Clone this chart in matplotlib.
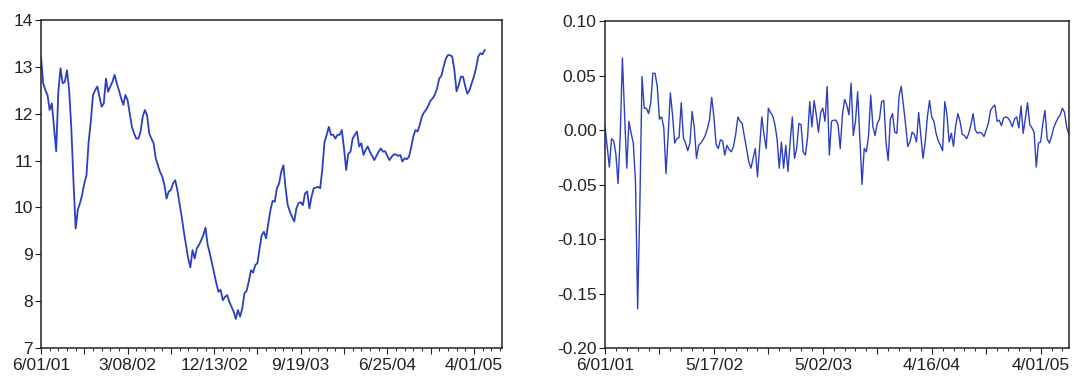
import numpy as np
from matplotlib import pyplot as plt
from matplotlib.ticker import MultipleLocator, FixedLocator, FixedFormatter

plt.rcParams['font.family'] = ['Liberation Sans', 'DejaVu Sans']

# weekly level series, starting 6/01/01
level = [
    13.2, 12.65, 12.5, 12.4, 12.08, 12.22, 11.72, 11.2, 12.47, 12.97,
    12.65, 12.68, 12.93, 12.5, 11.69, 10.55, 9.55, 9.95, 10.09, 10.27,
    10.51, 10.69, 11.4, 11.83, 12.4, 12.5, 12.58, 12.36, 12.15, 12.22,
    12.75, 12.47, 12.58, 12.68, 12.83, 12.65, 12.5, 12.33, 12.19, 12.4,
    12.29, 12.0, 11.72, 11.58, 11.47, 11.47, 11.62, 11.94, 12.08, 11.97,
    11.58, 11.47, 11.37, 11.05, 10.9, 10.76, 10.66, 10.48, 10.19, 10.34,
    10.37, 10.51, 10.58, 10.37, 10.09, 9.8, 9.48, 9.2, 8.91, 8.72,
    9.09, 8.91, 9.13, 9.2, 9.3, 9.41, 9.57, 9.2, 9.02, 8.81,
    8.59, 8.38, 8.2, 8.24, 8.02, 8.09, 8.13, 7.99, 7.88, 7.78,
    7.62, 7.81, 7.67, 7.85, 8.17, 8.22, 8.42, 8.66, 8.61, 8.77,
    8.81, 9.13, 9.41, 9.48, 9.34, 9.66, 9.94, 10.14, 10.12, 10.41,
    10.51, 10.76, 10.9, 10.41, 10.05, 9.91, 9.8, 9.7, 9.98, 10.09,
    10.11, 10.05, 10.3, 10.34, 9.98, 10.23, 10.41, 10.42, 10.44, 10.41,
    10.83, 11.4, 11.55, 11.72, 11.55, 11.55, 11.47, 11.55, 11.55, 11.65,
    11.26, 10.8, 11.15, 11.19, 11.47, 11.55, 11.62, 11.3, 11.37, 11.12,
    11.23, 11.3, 11.18, 11.1, 11.01, 11.1, 11.19, 11.26, 11.19, 11.2,
    11.1, 11.01, 11.08, 11.13, 11.13, 11.1, 11.12, 10.98, 11.05, 11.03,
    11.08, 11.27, 11.51, 11.65, 11.62, 11.76, 11.94, 12.03, 12.09, 12.18,
    12.28, 12.33, 12.41, 12.54, 12.75, 12.81, 13.0, 13.17, 13.25, 13.25,
    13.22, 12.93, 12.48, 12.61, 12.79, 12.79, 12.59, 12.43, 12.5, 12.65,
    12.79, 12.97, 13.22, 13.29, 13.27, 13.36,
]

# weekly change series, starting 6/01/01
change = [
    0.003, -0.015, -0.034, -0.008, -0.010, -0.022, -0.049, -0.005, 0.066, 0.014,
    -0.035, 0.008, -0.003, -0.012, -0.047, -0.164, -0.070, 0.049, 0.020, 0.020,
    0.015, 0.025, 0.052, 0.052, 0.040, 0.010, 0.012, 0.002, -0.040, -0.005,
    0.034, 0.014, -0.012, -0.008, -0.007, 0.025, -0.007, -0.012, -0.019, -0.012,
    0.017, 0.002, -0.026, -0.014, -0.012, -0.009, -0.005, 0.001, 0.010, 0.030,
    0.012, -0.013, -0.017, -0.009, -0.010, -0.023, -0.014, -0.018, -0.020, -0.015,
    -0.004, 0.012, 0.008, 0.006, -0.006, -0.017, -0.029, -0.035, -0.026, -0.017,
    -0.043, -0.015, 0.012, -0.004, -0.017, 0.020, 0.016, 0.013, 0.005, -0.008,
    -0.035, -0.011, -0.035, -0.014, -0.038, -0.011, 0.012, -0.026, -0.017, 0.006,
    0.005, -0.020, -0.023, -0.007, 0.026, 0.003, 0.027, 0.014, -0.002, 0.016,
    0.020, 0.008, 0.040, -0.023, 0.008, 0.009, 0.009, 0.005, -0.017, 0.014,
    0.028, 0.023, 0.014, 0.043, -0.005, 0.008, 0.035, -0.008, -0.050, -0.017,
    -0.020, -0.005, 0.032, 0.003, -0.005, 0.006, 0.010, 0.026, 0.027, -0.011,
    -0.028, 0.010, 0.015, -0.002, -0.003, 0.031, 0.040, 0.023, 0.005, -0.015,
    -0.011, -0.002, -0.004, -0.011, 0.016, -0.005, -0.026, -0.011, 0.012, 0.027,
    0.012, 0.008, -0.003, -0.010, -0.014, -0.019, 0.026, 0.014, -0.011, -0.003,
    -0.015, 0.004, 0.015, 0.008, -0.004, -0.005, -0.008, -0.003, 0.005, 0.015,
    0.000, -0.003, -0.002, -0.003, -0.006, 0.000, 0.006, 0.018, 0.021, 0.023,
    0.008, 0.009, 0.004, 0.011, 0.012, 0.011, 0.008, 0.003, 0.010, 0.012,
    0.002, 0.022, -0.003, 0.011, 0.025, 0.005, 0.002, -0.002, -0.034, -0.012,
    -0.011, 0.006, 0.018, -0.008, -0.012, -0.006, 0.002, 0.007, 0.011, 0.014,
    0.020, 0.016, 0.002, -0.004,
]

level_dates = ['6/01/01', '3/08/02', '12/13/02', '9/19/03', '6/25/04', '4/01/05']
change_dates = ['6/01/01', '5/17/02', '5/02/03', '4/16/04', '4/01/05']
level_yticks = [7, 8, 9, 10, 11, 12, 13, 14]
change_yticks = [-0.20, -0.15, -0.10, -0.05, 0.00, 0.05, 0.10]

LINE_COLOR = '#2c40bd'
N_WEEKS = 213


def style_axis(ax, labels, step, minor_step):
    """EViews-like frame: labelled ticks every `step` weeks, taller unlabelled ones in between."""
    major = np.arange(0, N_WEEKS + 1, step / 2)
    texts = [labels[int(i // 2)] if i % 2 == 0 else '' for i in range(len(major))]
    ax.xaxis.set_major_locator(FixedLocator(major))
    ax.xaxis.set_major_formatter(FixedFormatter(texts))
    ax.xaxis.set_minor_locator(MultipleLocator(minor_step))
    ax.set_xlim(0, N_WEEKS)
    ax.tick_params(axis='x', which='major', direction='out', length=4, width=0.8, pad=3)
    ax.tick_params(axis='x', which='minor', direction='out', length=2, width=0.6)
    ax.tick_params(axis='y', which='major', direction='out', length=4, width=0.8, pad=2)
    ax.tick_params(labelsize=12.5, colors='#222222')
    for spine in ax.spines.values():
        spine.set_linewidth(1.1)
        spine.set_color('#222222')


fig = plt.figure(figsize=(10.74, 3.82), dpi=100)

# Left: level
ax1 = fig.add_axes([0.0382, 0.089, 0.4292, 0.8586])
ax1.plot(range(len(level)), level, color=LINE_COLOR, linewidth=1.3)
ax1.set_ylim(7, 14)
ax1.set_yticks(level_yticks)
ax1.set_yticklabels([str(v) for v in level_yticks])
style_axis(ax1, level_dates, 40, 4)

# Right: weekly change
ax2 = fig.add_axes([0.5633, 0.089, 0.4320, 0.8560])
ax2.plot(range(len(change)), change, color=LINE_COLOR, linewidth=1.0)
ax2.set_ylim(-0.20, 0.10)
ax2.set_yticks(change_yticks)
ax2.set_yticklabels([f'{v:.2f}' for v in change_yticks])
style_axis(ax2, change_dates, 50, 5)

plt.savefig('out.png', dpi=100)
